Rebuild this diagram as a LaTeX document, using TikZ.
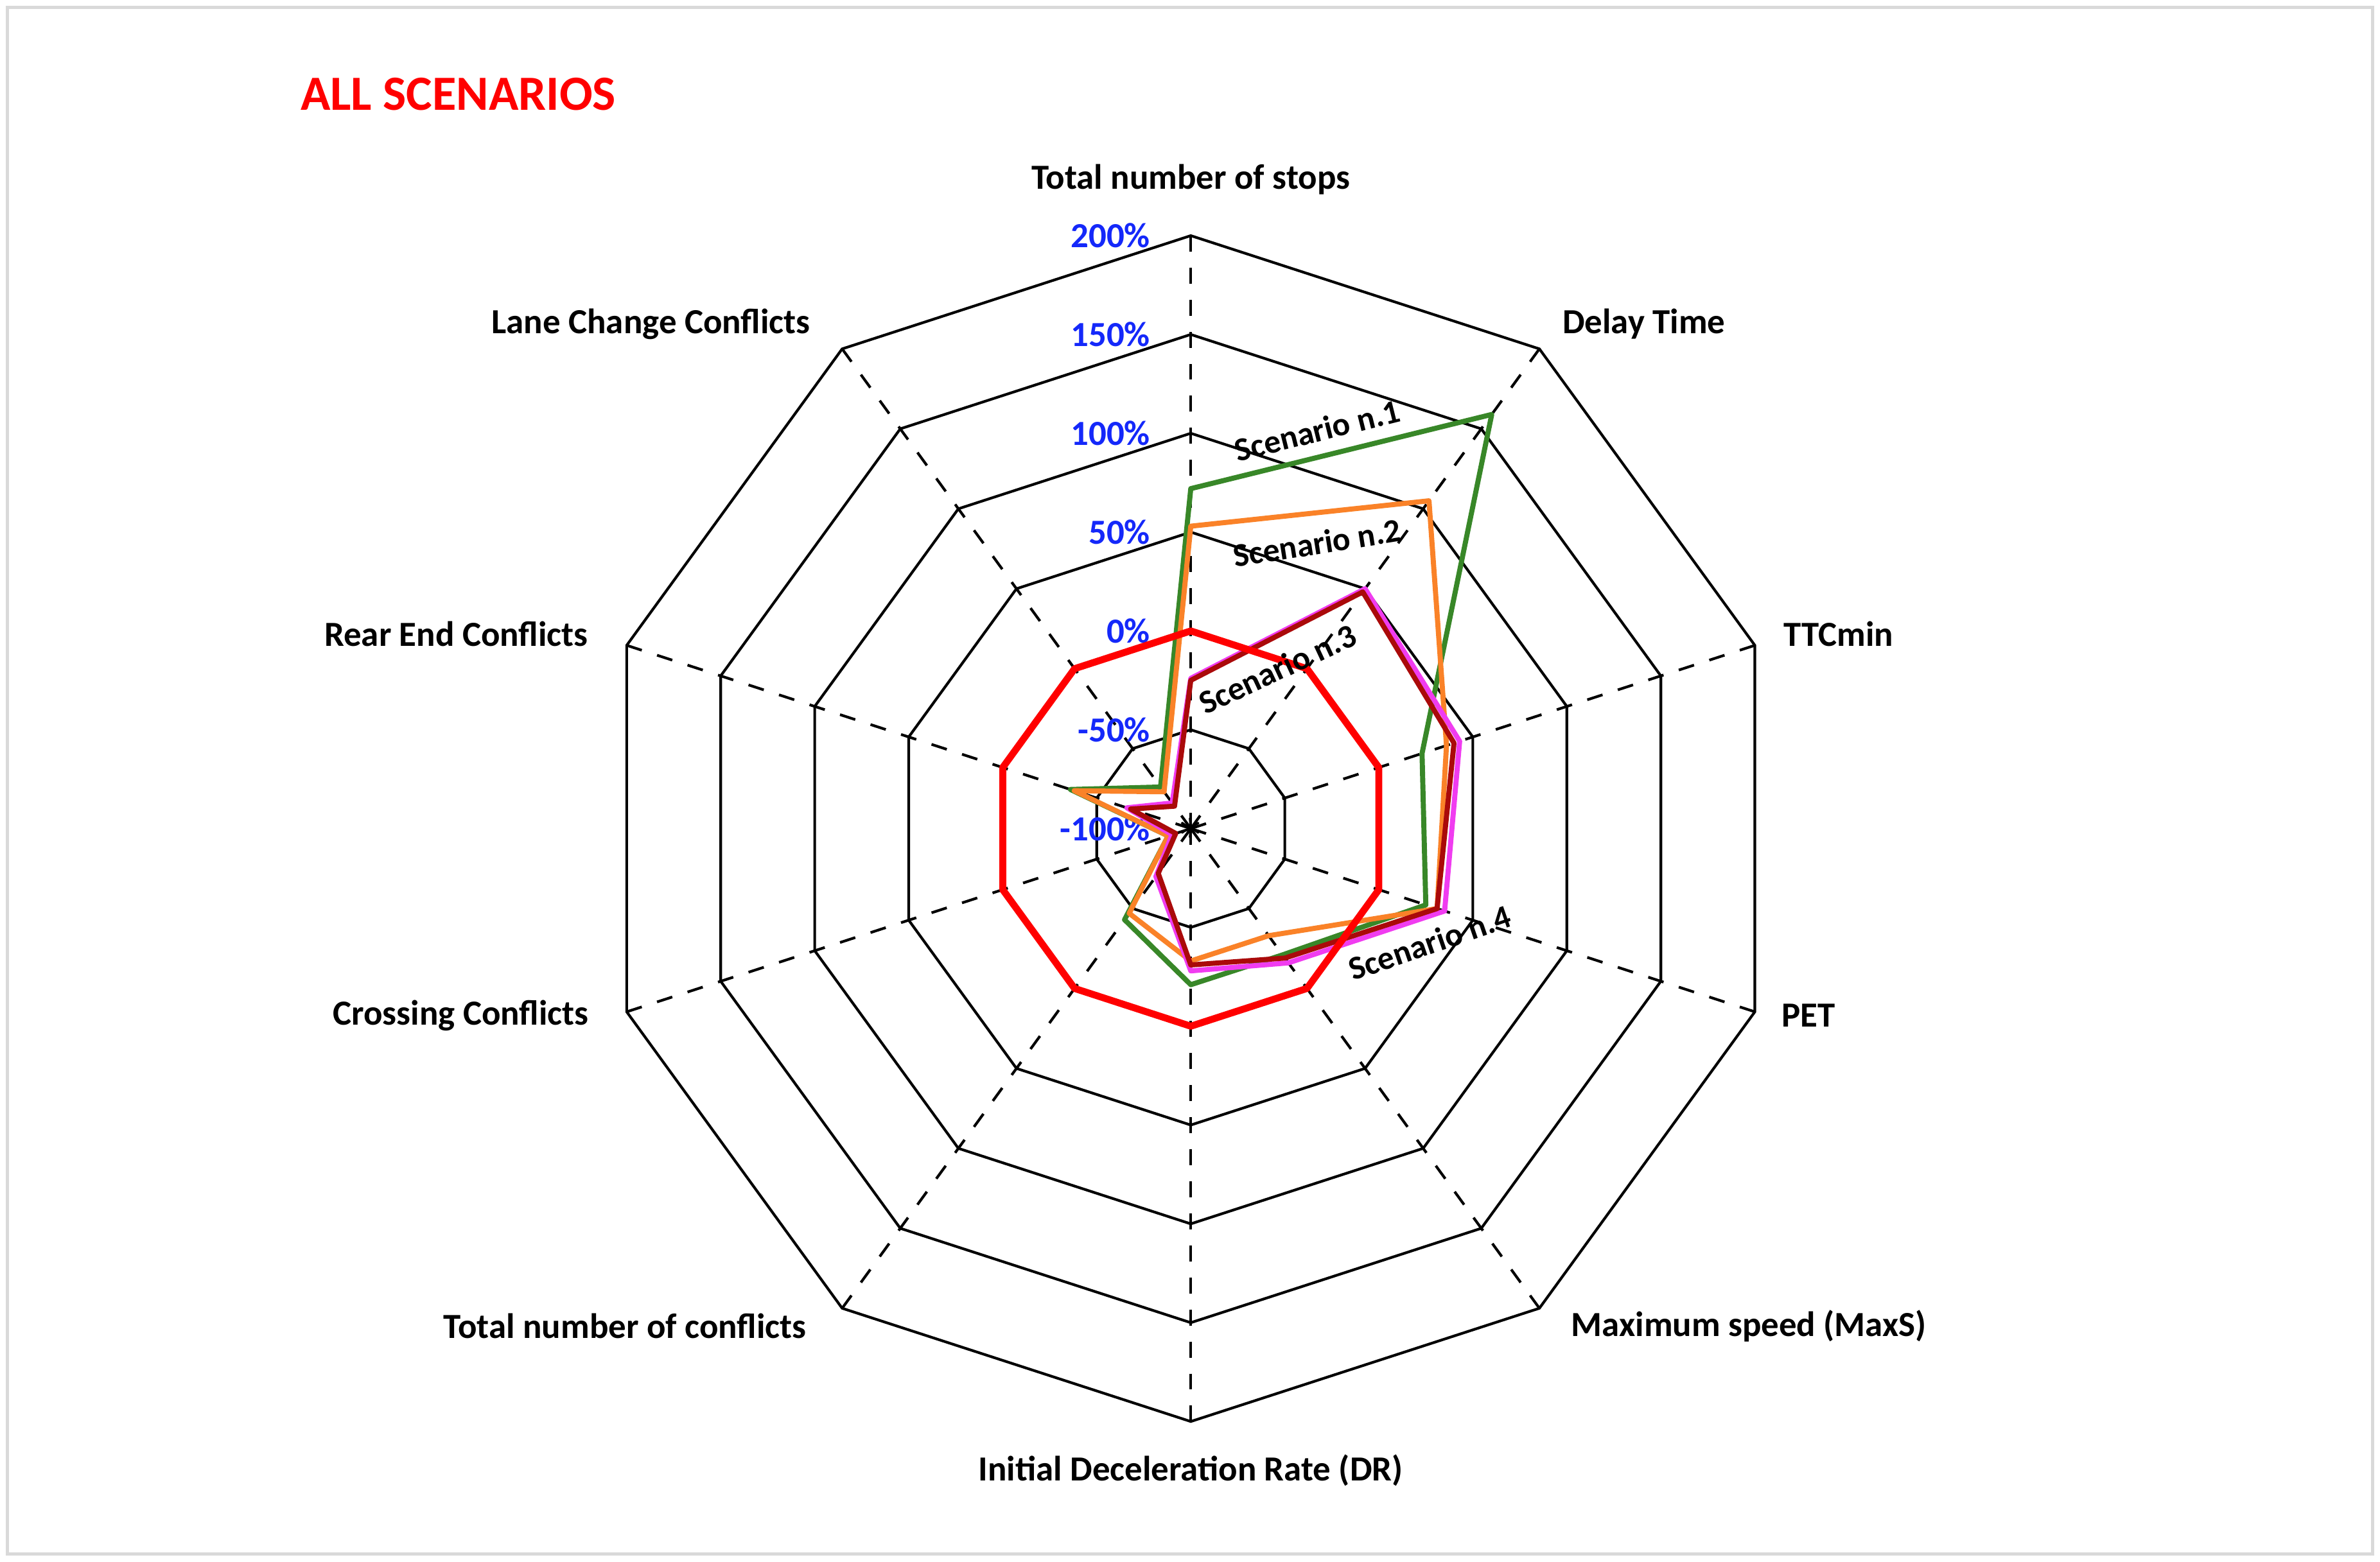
\documentclass[tikz,border=0pt]{standalone}
\usepackage{fontspec}
\setmainfont{Carlito}
\usetikzlibrary{positioning}
\definecolor{sgreen}{RGB}{56,135,40}
\definecolor{sorange}{RGB}{250,130,40}
\definecolor{smagenta}{RGB}{240,60,240}
\definecolor{sdred}{RGB}{170,10,10}
\definecolor{pblue}{RGB}{20,40,250}
\tikzset{
  axlab/.style={font=\fontsize{6.6}{8}\selectfont\bfseries},
  pct/.style={font=\fontsize{6.6}{8}\selectfont\bfseries, text=pblue, anchor=east, inner sep=0pt},
  scen/.style={font=\fontsize{6.2}{7}\selectfont\bfseries, inner sep=0pt},
  series/.style={line width=0.95pt, line join=round},
}
\begin{document}
\begin{tikzpicture}[declare function={rv(\v)=(\v+100)/50*0.65;}]
\useasboundingbox (0,0) rectangle (15.65,10.27);
\draw[black!15, line width=0.6pt] (0.05,0.05) rectangle (15.6,10.22);

\node[font=\fontsize{9.2}{11}\selectfont\bfseries, text=red, anchor=west, inner sep=0pt] (title) at (1.97,9.65) {ALL SCENARIOS};

\coordinate (c) at (7.83,4.82);
\begin{scope}[shift={(c)}]
% rings
\foreach \r in {1,...,6}
  \draw[line width=0.5pt] (90:0.65*\r) \foreach \i in {1,...,9}{ -- (90-36*\i:0.65*\r)} -- cycle;
% axes
\foreach \i in {0,...,9}
  \draw[dashed, line width=0.5pt] (0,0) coordinate (o) -- (90-36*\i:3.9) coordinate (ax\i);
\node[font=\small, inner sep=0pt] (star) at (0,0) {$\ast$};

% percent labels
\foreach \p [count=\k from 0] in {-100\%,-50\%,0\%,50\%,100\%,150\%,200\%}
  \node[pct] (p\k) at (-0.26,0.65*\k) {\p};

% series
\foreach \v [count=\i from 0] in {72,159,23,25,-21,-21,-43,-88,-36,-74}
  \coordinate (g\i) at ({90-36*\i}:{rv(\v)});
\foreach \v [count=\i from 0] in {53,105,36,31,-33,-33,-47,-88,-38,-77}
  \coordinate (o\i) at ({90-36*\i}:{rv(\v)});
\foreach \v [count=\i from 0] in {-24,50,43,35,-16,-28,-70,-90,-66,-84}
  \coordinate (m\i) at ({90-36*\i}:{rv(\v)});
\foreach \v [count=\i from 0] in {-25,48,40,31,-19,-31,-72,-92,-68,-86}
  \coordinate (d\i) at ({90-36*\i}:{rv(\v)});
\foreach \i in {0,...,9}
  \coordinate (r\i) at ({90-36*\i}:{rv(0)});

\draw[series, sgreen] (g0) \foreach \i in {1,...,9}{ -- (g\i)} -- cycle;
\draw[series, sorange] (o0) \foreach \i in {1,...,9}{ -- (o\i)} -- cycle;
\draw[series, smagenta] (m0) \foreach \i in {1,...,9}{ -- (m\i)} -- cycle;
\draw[series, sdred] (d0) \foreach \i in {1,...,9}{ -- (d\i)} -- cycle;
\draw[series, red, line width=1.3pt] (r0) \foreach \i in {1,...,9}{ -- (r\i)} -- cycle;

% scenario labels
\node[scen, rotate=14] (s1) at (0.83,2.62) {Scenario n.1};
\node[scen, rotate=9] (s2) at (0.83,1.88) {Scenario n.2};
\node[scen, rotate=25] (s3) at (0.57,1.05) {Scenario n.3};
\node[scen, rotate=19] (s4) at (1.57,-0.75) {Scenario n.4};
\end{scope}

% axis labels
\node[axlab] (l0) at (7.83,9.09) {Total number of stops};
\node[axlab] (l1) at (10.81,8.14) {Delay Time};
\node[axlab] (l2) at (12.09,6.10) {TTCmin};
\node[axlab] (l3) at (11.89,3.59) {PET};
\node[axlab] (l4) at (11.50,1.55) {Maximum speed (MaxS)};
\node[axlab] (l5) at (7.83,0.60) {Initial Deceleration Rate (DR)};
\node[axlab] (l6) at (4.11,1.55) {Total number of conflicts};
\node[axlab] (l7) at (3.03,3.59) {Crossing Conflicts};
\node[axlab] (l8) at (3.00,6.10) {Rear End Conflicts};
\node[axlab] (l9) at (4.28,8.14) {Lane Change Conflicts};
\end{tikzpicture}
\end{document}
